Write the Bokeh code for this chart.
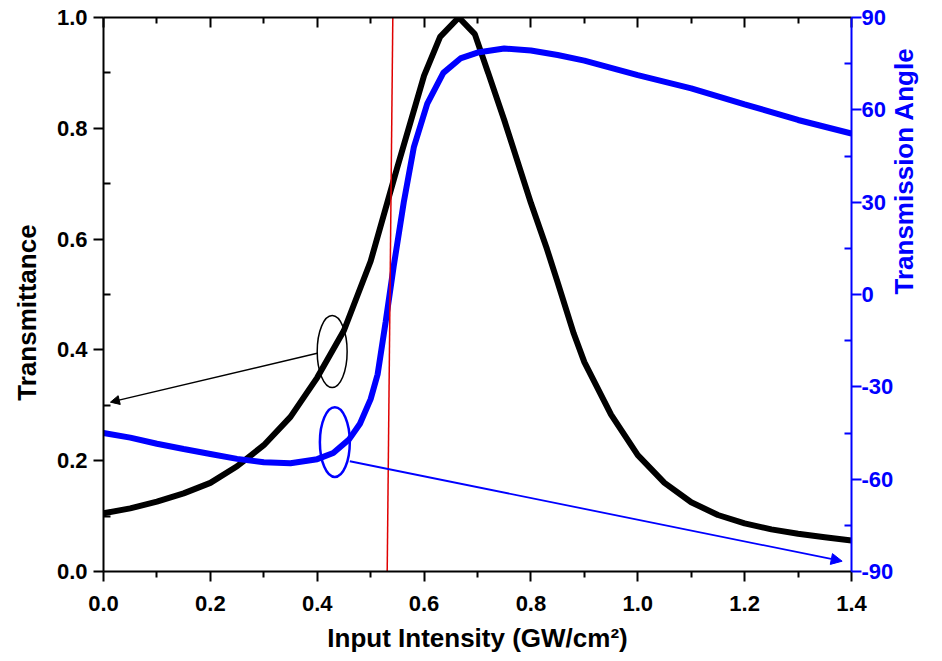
import math
from bokeh.plotting import figure
from bokeh.models import Range1d, LinearAxis, FixedTicker, Arrow, NormalHead, Label
from bokeh.embed import file_html
from bokeh.resources import INLINE

# ---- data ----
x_trans = [0.00, 0.05, 0.10, 0.15, 0.20, 0.25, 0.30, 0.35, 0.40, 0.45, 0.50,
           0.55, 0.60, 0.63, 0.665, 0.695, 0.72, 0.75, 0.80, 0.83, 0.85, 0.88,
           0.90, 0.95, 1.00, 1.05, 1.10, 1.15, 1.20, 1.25, 1.30, 1.35, 1.40]
transmittance = [0.105, 0.114, 0.126, 0.141, 0.160, 0.190, 0.228, 0.279, 0.350,
                 0.435, 0.560, 0.730, 0.895, 0.965, 1.000, 0.970, 0.900, 0.815,
                 0.665, 0.582, 0.522, 0.430, 0.378, 0.283, 0.210, 0.160, 0.125,
                 0.102, 0.087, 0.076, 0.068, 0.062, 0.056]

x_angle = [0.00, 0.05, 0.10, 0.15, 0.20, 0.25, 0.30, 0.35, 0.40, 0.43, 0.46,
           0.48, 0.50, 0.513, 0.528, 0.543, 0.562, 0.581, 0.606, 0.636, 0.668,
           0.70, 0.75, 0.80, 0.85, 0.90, 1.00, 1.10, 1.20, 1.30, 1.40]
angle = [-45.0, -46.5, -48.5, -50.2, -51.8, -53.4, -54.5, -54.8, -53.5, -51.5,
         -47.0, -42.0, -34.0, -26.0, -9.0, 9.0, 30.0, 48.0, 62.0, 72.0, 76.7,
         78.6, 79.9, 79.3, 77.8, 76.0, 71.3, 67.0, 61.8, 56.7, 52.3]

red_x = [0.531, 0.5415]
red_y = [0.0, 1.0]

x_ticks = [0.0, 0.2, 0.4, 0.6, 0.8, 1.0, 1.2, 1.4]
x_minor = [0.1, 0.3, 0.5, 0.7, 0.9, 1.1, 1.3]
y_ticks = [0.0, 0.2, 0.4, 0.6, 0.8, 1.0]
y_minor = [0.1, 0.3, 0.5, 0.7, 0.9]
a_ticks = [-90, -60, -30, 0, 30, 60, 90]
a_minor = [-75, -45, -15, 15, 45, 75]

NB = "\u00a0"
x_title = "Input Intensity (GW/cm\u00b2)"
left_title = "Transmittance" + NB * 5      # padding nudges the centred title down
right_title = "Transmission Angle"

# annotation marks (ellipses and arrows), in data units of the left axis
ell_black = dict(x=0.428, y=0.397, w=0.056, h=0.130)
ell_blue = dict(x=0.433, y=0.2334, w=0.056, h=0.126)
arrow_black = dict(x0=0.40, y0=0.394, x1=0.013, y1=0.3057)
arrow_blue = dict(x0=0.461, y0=0.199, x1=1.3825, y1=0.0186)

FONT = "Liberation Sans"
BLUE = "#0000ff"

p = figure(width=942, height=661, output_backend="svg", toolbar_location=None,
           x_range=Range1d(0, 1.4), y_range=Range1d(0, 1.0),
           min_border_left=103, min_border_right=91, min_border_top=17,
           min_border_bottom=90)
p.extra_y_ranges = {"angle": Range1d(-90, 90)}
p.grid.visible = False
p.outline_line_color = None
p.background_fill_color = "white"
p.border_fill_color = "white"

# curves
p.line(x_trans, transmittance, line_color="black", line_width=6)
p.line(x_angle, angle, line_color=BLUE, line_width=6, y_range_name="angle")
p.line(red_x, red_y, line_color="#e00000", line_width=1.5)

# ellipses
p.ellipse(x=[ell_black["x"]], y=[ell_black["y"]], width=[ell_black["w"]],
          height=[ell_black["h"]], fill_color=None, line_color="black", line_width=1.5)
p.ellipse(x=[ell_blue["x"]], y=[ell_blue["y"]], width=[ell_blue["w"]],
          height=[ell_blue["h"]], fill_color=None, line_color=BLUE, line_width=2.5)

# arrows
p.add_layout(Arrow(x_start=arrow_black["x0"], y_start=arrow_black["y0"],
                   x_end=arrow_black["x1"], y_end=arrow_black["y1"],
                   line_color="black", line_width=1.5,
                   end=NormalHead(size=9, fill_color="black", line_color="black")))
p.add_layout(Arrow(x_start=arrow_blue["x0"], y_start=arrow_blue["y0"],
                   x_end=arrow_blue["x1"], y_end=arrow_blue["y1"],
                   line_color=BLUE, line_width=1.8,
                   end=NormalHead(size=11, fill_color=BLUE, line_color=BLUE)))

# axes
xa = p.xaxis[0]
xa.ticker = FixedTicker(ticks=x_ticks, minor_ticks=x_minor)
xa.major_label_overrides = {v: f"{v:.1f}" for v in x_ticks}
xa.axis_label = x_title

ya = p.yaxis[0]
ya.ticker = FixedTicker(ticks=y_ticks, minor_ticks=y_minor)
ya.major_label_overrides = {v: f"{v:.1f}" for v in y_ticks}
ya.axis_label = left_title

ra = LinearAxis(y_range_name="angle",
                ticker=FixedTicker(ticks=a_ticks, minor_ticks=a_minor),
                axis_label=right_title)
ra.major_label_overrides = {v: str(v) for v in a_ticks}
p.add_layout(ra, "right")

ta = LinearAxis(ticker=FixedTicker(ticks=x_ticks, minor_ticks=x_minor))
ta.major_label_overrides = {v: "" for v in x_ticks}
p.add_layout(ta, "above")

for ax, col in ((xa, "black"), (ya, "black"), (ra, BLUE)):
    ax.axis_line_color = col
    ax.axis_line_width = 2
    ax.major_tick_line_color = col
    ax.minor_tick_line_color = col
    ax.major_tick_line_width = 2
    ax.minor_tick_line_width = 2
    ax.major_label_text_font = FONT
    ax.major_label_text_font_style = "bold"
    ax.major_label_text_font_size = "22px"
    ax.major_label_text_color = col
    ax.axis_label_text_font = FONT
    ax.axis_label_text_font_style = "bold"
    ax.axis_label_text_font_size = "26px"
    ax.axis_label_text_color = col

xa.major_tick_out = 10
xa.major_tick_in = 0
xa.minor_tick_out = 6
xa.minor_tick_in = 0
xa.major_label_standoff = 14
xa.axis_label_standoff = 9

ya.major_tick_out = 10
ya.major_tick_in = 0
ya.minor_tick_out = 0
ya.minor_tick_in = 7
ya.major_label_standoff = 6
ya.axis_label_standoff = 12

ra.major_tick_out = 10
ra.major_tick_in = 0
ra.minor_tick_out = 0
ra.minor_tick_in = 7
ra.major_label_standoff = 0
ra.axis_label_standoff = 8
ra.axis_label_orientation = math.pi / 2

ta.axis_line_color = "black"
ta.axis_line_width = 2
ta.major_tick_line_color = "black"
ta.minor_tick_line_color = "black"
ta.major_tick_line_width = 2
ta.minor_tick_line_width = 2
ta.major_tick_out = 0
ta.major_tick_in = 10
ta.minor_tick_out = 0
ta.minor_tick_in = 6
ta.major_label_standoff = 0

# experimental screen-unit title copy (to test placement outside the frame)
p.add_layout(Label(x=822, y=305, x_units="screen", y_units="screen",
                   text=right_title, angle=math.pi / 2, text_align="center",
                   text_baseline="middle", text_font=FONT, text_font_style="bold",
                   text_font_size="26px", text_color="#ff8800"))

open("out.html", "w").write(file_html(p, INLINE))
